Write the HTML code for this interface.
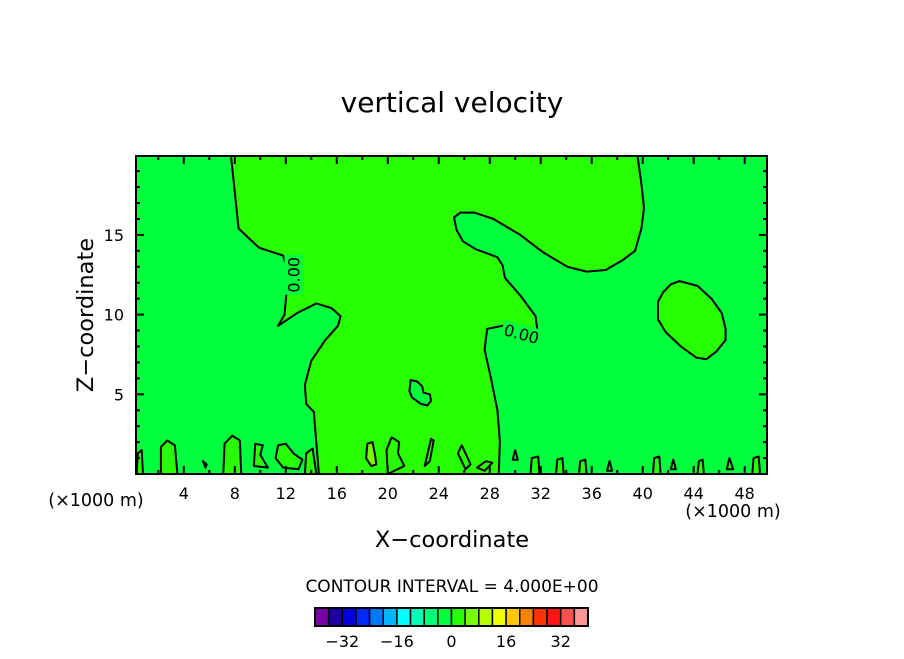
<!DOCTYPE html>
<html><head><meta charset="utf-8"><style>
html,body{margin:0;padding:0;background:#fff;}
svg text{font-family:"DejaVu Sans","Liberation Sans",sans-serif;fill:#000;}
</style></head><body>
<svg id="chart" width="904" height="654" viewBox="0 0 904 654">
<text x="452" y="112" font-size="28" text-anchor="middle">vertical velocity</text>
<g id="plot"></g>
<g id="axes"></g>
<text x="96" y="506" font-size="17.5" text-anchor="middle">(×1000 m)</text>
<text x="733" y="517" font-size="17.5" text-anchor="middle">(×1000 m)</text>
<text x="452" y="547" font-size="22.5" text-anchor="middle">X−coordinate</text>
<text transform="translate(93,315) rotate(-90)" font-size="22.5" text-anchor="middle">Z−coordinate</text>
<text x="452" y="592" font-size="17" text-anchor="middle">CONTOUR INTERVAL = 4.000E+00</text>
<g id="cbar"></g>
</svg>
<script>
const xTicks=[4,8,12,16,20,24,28,32,36,40,44,48];
const yTicks=[5,10,15];
const cbarColors=["#7a00a8","#1e00a0","#0000dc","#0028ff","#0078ff","#00b4ff","#00ffff","#00ffb4","#00ff78","#00ff3c","#28ff00","#78ff00","#b4ff00","#f0ff00","#ffc800","#ff8200","#ff3200","#ff1414","#ff5050","#ff9696"];
const cbarLabels=[-32,-16,0,16,32];
const cbarMin=-40, cbarStep=4;
const mainRegion=[[7.7,19.95],[8.3,15.4],[9.9,14.2],[11.8,13.7],[12.2,12.6],[11.9,10.0],[11.4,9.3],[12.9,10.1],[14.4,10.7],[15.6,10.4],[16.3,9.9],[16.1,9.3],[15.1,8.4],[14.0,7.1],[13.5,5.6],[13.6,4.4],[14.2,3.9],[14.6,0],[28.7,0],[28.8,2.0],[28.6,4.0],[28.1,6.0],[27.6,7.8],[27.8,9.1],[29.0,9.3],[30.4,9.3],[31.8,8.6],[31.6,9.9],[30.4,11.2],[29.2,12.3],[29.0,13.1],[28.6,13.6],[26.9,14.1],[25.9,14.6],[25.4,15.3],[25.2,16.1],[25.7,16.4],[26.8,16.4],[28.3,16.0],[30.4,15.0],[32.2,13.9],[34.1,13.0],[35.6,12.7],[37.1,12.8],[38.4,13.4],[39.4,14.0],[39.9,15.4],[40.1,16.7],[39.9,18.2],[39.6,19.95]];
const ellipse=[[42.9,12.1],[44.3,11.8],[45.4,11.0],[46.2,10.1],[46.5,9.1],[46.5,8.4],[45.8,7.7],[45.0,7.2],[44.2,7.3],[43.0,8.0],[41.8,8.9],[41.2,9.7],[41.2,10.8],[41.6,11.4],[42.2,11.9]];
const island=[[21.8,5.9],[22.3,5.8],[22.7,5.5],[22.8,5.1],[23.3,5.0],[23.4,4.6],[23.1,4.3],[22.6,4.4],[21.9,4.8],[21.7,5.2]];
const lightBlob=[[18.4,1.9],[18.8,2.0],[19.0,1.2],[19.1,0.6],[18.7,0.5],[18.3,1.0]];
const bottomBlobs=[
 [[0.3,0],[0.4,1.3],[0.7,1.5],[0.8,0]],
 [[2.2,0],[2.2,1.7],[2.7,2.1],[3.3,1.8],[3.5,0]],
 [[5.5,0.8],[5.8,0.6],[5.7,0.4]],
 [[7.1,0],[7.2,1.9],[7.8,2.4],[8.4,2.1],[8.5,0]],
 [[9.5,0.5],[9.6,1.9],[10.2,1.8],[10.0,1.2],[10.6,0.4]],
 [[11.2,1.0],[11.4,1.8],[12.0,1.9],[12.6,1.3],[13.3,0.9],[13.0,0.3],[11.8,0.4]],
 [[13.5,0],[13.6,1.3],[14.1,1.6],[14.4,0]],
 [[20.0,0],[19.9,1.5],[20.3,2.3],[20.9,2.0],[20.8,1.3],[21.3,0.5]],
 [[22.9,0.5],[23.4,2.2],[23.6,2.1],[23.3,0.8]],
 [[25.5,1.3],[25.8,1.8],[26.1,1.3],[26.5,0.6],[26.1,0.3]],
 [[27.0,0.4],[27.7,0.8],[28.2,0.7],[27.6,0.2]],
 [[29.8,0.9],[30.0,1.5],[30.2,0.9]],
 [[31.2,0],[31.3,1.0],[31.8,1.1],[31.9,0]],
 [[33.2,0],[33.3,0.9],[33.7,1.0],[33.8,0]],
 [[35.0,0],[35.1,0.8],[35.5,0.9],[35.6,0]],
 [[37.2,0.2],[37.4,0.8],[37.6,0.2]],
 [[40.8,0],[40.9,1.0],[41.3,1.1],[41.4,0]],
 [[42.2,0.3],[42.4,0.9],[42.6,0.3]],
 [[44.3,0],[44.4,0.8],[44.7,0.9],[44.8,0]],
 [[46.6,0.3],[46.8,1.0],[47.1,0.3]],
 [[48.6,0],[48.7,1.0],[49.1,1.1],[49.2,0]]
];
const contourLabels=[{x:12.6,z:12.5,rot:-90,t:"0.00"},{x:30.5,z:8.8,rot:15,t:"0.00"}];

const NS="http://www.w3.org/2000/svg";
const L=136,R=767,T=156,B=474,xMin=0.25,xMax=49.75,zMin=0,zMax=19.95;
const sx=v=>L+(v-xMin)/(xMax-xMin)*(R-L);
const sy=v=>B-(v-zMin)/(zMax-zMin)*(B-T);
function mk(tag,attrs,parent){const e=document.createElementNS(NS,tag);for(const k in attrs)e.setAttribute(k,attrs[k]);parent.appendChild(e);return e;}
const plot=document.getElementById('plot'),axes=document.getElementById('axes'),cbar=document.getElementById('cbar');
const bg=mk('rect',{x:L,y:T,width:R-L,height:B-T,fill:cbarColors[9]},plot);


function poly(pts,fill,name){const d=pts.map((p,i)=>(i?'L':'M')+sx(p[0]).toFixed(1)+','+sy(p[1]).toFixed(1)).join('')+'Z';
 const e=mk('path',{d:d,fill:fill,stroke:'#000','stroke-width':2,'stroke-linejoin':'round'},plot);
 
 }
poly(mainRegion,cbarColors[10],'contour-region-main');
poly(ellipse,cbarColors[10],'contour-region-ellipse');
poly(island,cbarColors[9],'contour-region-island');
poly(lightBlob,cbarColors[11],'contour-region-light');
bottomBlobs.forEach((b,i)=>poly(b,cbarColors[10],'contour-blob-'+i));
contourLabels.forEach(c=>{const px=sx(c.x),py=sy(c.z);
 const bgc=mk('rect',{x:px-20,y:py-9,width:40,height:18,fill:cbarColors[9],transform:`rotate(${c.rot} ${px} ${py})`},plot);
 
 
 const t=mk('text',{x:px,y:py+6,'font-size':16,'text-anchor':'middle',transform:`rotate(${c.rot} ${px} ${py})`},plot);
 t.textContent=c.t;
 
 });
const frame=mk('rect',{x:L,y:T,width:R-L,height:B-T,fill:'none',stroke:'#000','stroke-width':2},axes);


for(let v=2;v<=48;v+=2){const maj=v%4===0,len=maj?8:4,x=sx(v);
 mk('line',{x1:x,y1:B,x2:x,y2:B-len,stroke:'#000','stroke-width':2},axes);
 mk('line',{x1:x,y1:T,x2:x,y2:T+len,stroke:'#000','stroke-width':2},axes);}
for(let v=1;v<=19;v++){const maj=v%5===0,len=maj?8:4,y=sy(v);
 mk('line',{x1:L,y1:y,x2:L+len,y2:y,stroke:'#000','stroke-width':2},axes);
 mk('line',{x1:R,y1:y,x2:R-len,y2:y,stroke:'#000','stroke-width':2},axes);}
xTicks.forEach(v=>{const t=mk('text',{x:sx(v),y:B+25,'font-size':16,'text-anchor':'middle'},axes);t.textContent=v;
 
 });
yTicks.forEach(v=>{const t=mk('text',{x:L-12,y:sy(v)+6,'font-size':16,'text-anchor':'end'},axes);t.textContent=v;
 
 });
const cL=315,cR=588,cT=608,cB=626,bw=(cR-cL)/cbarColors.length;
cbarColors.forEach((c,i)=>{const r=mk('rect',{x:cL+i*bw,y:cT,width:bw,height:cB-cT,fill:c,stroke:'#000','stroke-width':1.5},cbar);
 
 });
mk('rect',{x:cL,y:cT,width:cR-cL,height:cB-cT,fill:'none',stroke:'#000','stroke-width':2},cbar);
cbarLabels.forEach(v=>{const x=cL+(v-cbarMin)/cbarStep*bw;
 const t=mk('text',{x:x,y:647,'font-size':16,'text-anchor':'middle'},cbar);t.textContent=(v<0?'−':'')+Math.abs(v);
 
 });
</script>
</body></html>
